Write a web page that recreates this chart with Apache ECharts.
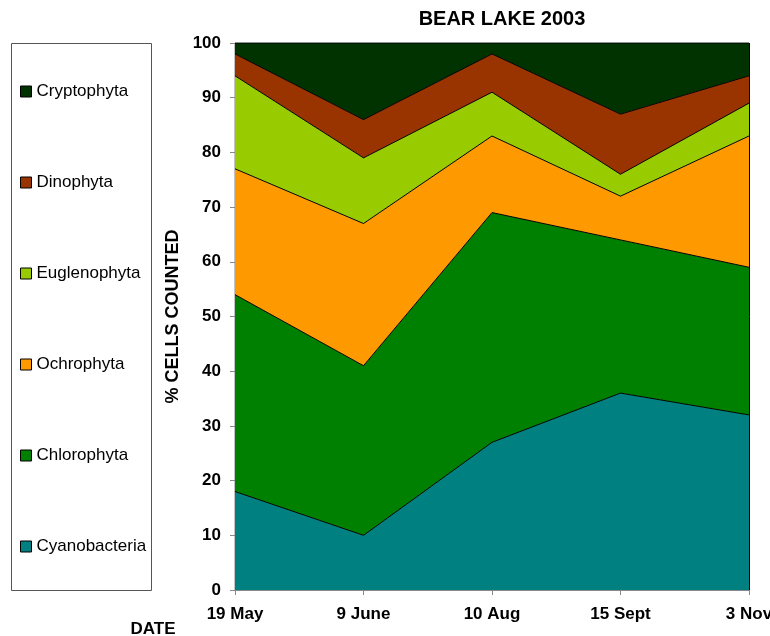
<!DOCTYPE html>
<html>
<head>
<meta charset="utf-8">
<script src="https://cdn.jsdelivr.net/npm/echarts@6/dist/echarts.min.js"></script>
<style>
  html, body { margin: 0; padding: 0; background: #fff; }
  #chart { width: 770px; height: 636px; }
</style>
</head>
<body>
<div id="chart"></div>
<script>
// Datos
const dates = ['19 May', '9 June', '10 Aug', '15 Sept', '3 Nov'];
const cyanobacteria = [18, 10, 27, 36, 32];
const chlorophyta = [36, 31, 42, 28, 27];
const ochrophyta = [23, 26, 14, 8, 24];
const euglenophyta = [17, 12, 8, 4, 6];
const dinophyta = [4, 7, 7, 11, 5];
const cryptophyta = [2, 14, 2, 13, 6];

const groups = [
    { name: 'Cyanobacteria', data: cyanobacteria, color: '#008080' },
    { name: 'Chlorophyta', data: chlorophyta, color: '#008000' },
    { name: 'Ochrophyta', data: ochrophyta, color: '#FF9900' },
    { name: 'Euglenophyta', data: euglenophyta, color: '#99CC00' },
    { name: 'Dinophyta', data: dinophyta, color: '#993300' },
    { name: 'Cryptophyta', data: cryptophyta, color: '#003300' }
];

const chart = echarts.init(document.getElementById('chart'));
const boldFont = { fontFamily: 'Liberation Sans, Arial', fontWeight: 'bold', fontSize: 17, color: '#000' };

const series = groups.map(g => ({
    name: g.name,
    type: 'line',
    stack: 'total',
    data: g.data,
    symbol: 'none',
    color: g.color,
    lineStyle: { color: '#000', width: 1 },
    areaStyle: { color: g.color, opacity: 1 },
    itemStyle: { color: g.color, borderColor: '#000', borderWidth: 1 }
}));

chart.setOption({
    animation: false,
    title: [
        {
            text: 'BEAR LAKE 2003',
            left: 502, top: 9,
            textAlign: 'center',
            padding: 0,
            textStyle: Object.assign({}, boldFont, { fontSize: 20 })
        },
        {
            text: 'DATE',
            left: 153, top: 621,
            textAlign: 'center',
            padding: 0,
            textStyle: boldFont
        }
    ],
    graphic: [{
        type: 'rect',
        shape: { x: 11.5, y: 43.5, width: 140, height: 547 },
        style: { fill: 'none', stroke: '#555', lineWidth: 1 }
    }],
    legend: {
        orient: 'vertical',
        left: 20, top: 83,
        padding: 0,
        itemWidth: 11, itemHeight: 11,
        itemGap: 74,
        icon: 'rect',
        data: groups.map(g => g.name).reverse(),
        textStyle: { fontFamily: 'Liberation Sans, Arial', fontSize: 17, color: '#000', lineHeight: 17 },
        itemStyle: { borderColor: '#000', borderWidth: 1 }
    },
    grid: {
        left: 235, right: 21, top: 43, bottom: 46,
        outerBoundsMode: 'none',
        containLabel: false,
        show: true, borderColor: '#888', borderWidth: 1
    },
    xAxis: {
        type: 'category',
        boundaryGap: false,
        data: dates,
        axisLine: { lineStyle: { color: '#888' } },
        axisTick: { show: true, length: 5, lineStyle: { color: '#888' } },
        splitLine: { show: true, lineStyle: { color: '#000', width: 1 } },
        axisLabel: Object.assign({ margin: 16 }, boldFont)
    },
    yAxis: {
        type: 'value',
        min: 0, max: 100, interval: 10,
        name: '% CELLS COUNTED',
        nameLocation: 'middle',
        nameRotate: 90,
        nameGap: 53,
        nameTextStyle: Object.assign({}, boldFont, { fontSize: 18 }),
        axisLine: { show: true, lineStyle: { color: '#888' } },
        axisTick: { show: true, length: 5, lineStyle: { color: '#888' } },
        splitLine: { show: false },
        axisLabel: Object.assign({ margin: 14 }, boldFont)
    },
    series: series
});
</script>
</body>
</html>
